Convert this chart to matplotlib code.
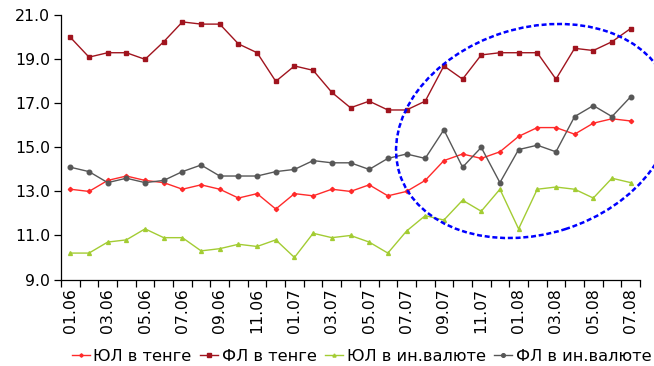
import matplotlib
matplotlib.use("Agg")
import matplotlib.pyplot as plt
from matplotlib.patches import Ellipse
from matplotlib.transforms import IdentityTransform

# Monthly points, Jan 2006 .. Jul 2008
months = ["01.06", "02.06", "03.06", "04.06", "05.06", "06.06", "07.06", "08.06",
          "09.06", "10.06", "11.06", "12.06", "01.07", "02.07", "03.07", "04.07",
          "05.07", "06.07", "07.07", "08.07", "09.07", "10.07", "11.07", "12.07",
          "01.08", "02.08", "03.08", "04.08", "05.08", "06.08", "07.08"]

ul_kzt = [13.1, 13.0, 13.5, 13.7, 13.5, 13.4, 13.1, 13.3, 13.1, 12.7, 12.9, 12.2,
          12.9, 12.8, 13.1, 13.0, 13.3, 12.8, 13.0, 13.5, 14.4, 14.7, 14.5, 14.8,
          15.5, 15.9, 15.9, 15.6, 16.1, 16.3, 16.2]
fl_kzt = [20.0, 19.1, 19.3, 19.3, 19.0, 19.8, 20.7, 20.6, 20.6, 19.7, 19.3, 18.0,
          18.7, 18.5, 17.5, 16.8, 17.1, 16.7, 16.7, 17.1, 18.7, 18.1, 19.2, 19.3,
          19.3, 19.3, 18.1, 19.5, 19.4, 19.8, 20.4]
ul_fx = [10.2, 10.2, 10.7, 10.8, 11.3, 10.9, 10.9, 10.3, 10.4, 10.6, 10.5, 10.8,
         10.0, 11.1, 10.9, 11.0, 10.7, 10.2, 11.2, 11.9, 11.7, 12.6, 12.1, 13.1,
         11.3, 13.1, 13.2, 13.1, 12.7, 13.6, 13.4]
fl_fx = [14.1, 13.9, 13.4, 13.6, 13.4, 13.5, 13.9, 14.2, 13.7, 13.7, 13.7, 13.9,
         14.0, 14.4, 14.3, 14.3, 14.0, 14.5, 14.7, 14.5, 15.8, 14.1, 15.0, 13.4,
         14.9, 15.1, 14.8, 16.4, 16.9, 16.4, 17.3]

series_names = ["ЮЛ в тенге", "ФЛ в тенге", "ЮЛ в ин.валюте", "ФЛ в ин.валюте"]

plt.rcParams["font.family"] = ["DejaVu Sans"]

fig = plt.figure(figsize=(6.54, 3.66), dpi=100)
ax = fig.add_axes([61 / 654, 1 - 279.5 / 366, (640 - 61) / 654, (279.5 - 15.3) / 366])

x = list(range(len(months)))
ax.plot(x, ul_kzt, color="#FF2A2A", lw=1.0, marker="D", ms=2.2, mec="#FF2A2A",
        label=series_names[0])
ax.plot(x, fl_kzt, color="#A0141E", lw=1.0, marker="s", ms=3.3, mec="#A0141E",
        label=series_names[1])
ax.plot(x, ul_fx, color="#A3CC33", lw=1.0, marker="^", ms=2.8, mec="#A3CC33",
        label=series_names[2])
ax.plot(x, fl_fx, color="#575757", lw=1.0, marker="o", ms=3.3, mec="#575757",
        label=series_names[3])

ax.set_xlim(-0.5, len(months) - 0.5)
ax.set_ylim(9, 21)
ax.set_yticks([9, 11, 13, 15, 17, 19, 21])
ax.set_yticklabels([f"{v:.1f}" for v in [9, 11, 13, 15, 17, 19, 21]], fontsize=11.3)

ax.set_xticks(x[::2])
ax.set_xticklabels(months[::2], rotation=90, fontsize=11.3)
ax.set_xticks([i - 0.5 for i in range(len(months) + 1)], minor=True)
ax.tick_params(axis="x", which="major", length=0, pad=6)
ax.tick_params(axis="x", which="minor", length=5, width=0.9, direction="out")
ax.tick_params(axis="y", length=5, width=0.9, direction="out", pad=3)

for side in ("top", "right"):
    ax.spines[side].set_visible(False)
for side in ("left", "bottom"):
    ax.spines[side].set_linewidth(0.9)

leg = fig.legend(loc="lower center", bbox_to_anchor=(0.553, -0.035), ncol=4,
                 frameon=False, fontsize=11.7, handlelength=1.1, handletextpad=0.2,
                 columnspacing=0.55, markerscale=0.8)

# dashed highlight ellipse around the recent period
ell = Ellipse((534, 366 - 131), width=282, height=206, angle=17.6,
              transform=IdentityTransform(), fill=False, edgecolor="#0000FF",
              lw=1.8, linestyle=(0, (2.0, 1.1)))
fig.add_artist(ell)

fig.savefig("out.png", dpi=100)
